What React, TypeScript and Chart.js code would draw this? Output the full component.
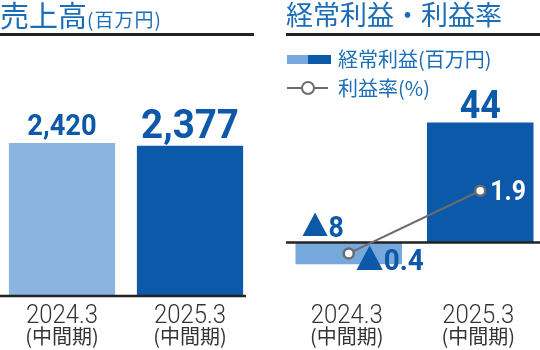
import React, { useEffect, useRef } from "react";
import { Chart, registerables } from "chart.js";

Chart.register(...registerables);

// Periods shown on both panels
const periods = ["2024.3", "2025.3"];
const periodNote = "(中間期)";

// 売上高 (百万円)
const sales = [2420, 2377];

// 経常利益 (百万円) and 利益率 (%)
const ordinaryProfit = [-8, 44];
const profitMargin = [-0.4, 1.9];

const TITLE_BLUE = "#1b6db7";
const VALUE_BLUE = "#0d58a8";
const DARK_BAR = "#0c58a9";
const LIGHT_BAR_SALES = "#8bb5e1";
const LIGHT_BAR_PROFIT = "#77a8dc";
const LINE_GRAY = "#6b6b6b";
const AXIS_DARK = "#222222";
const NUM_FONT = "Roboto, 'Noto Sans CJK JP', sans-serif";
const JP_FONT = "'Noto Sans CJK JP', sans-serif";

// label sizes for the sales values (the latest period is emphasised)
const salesLabelSizes = [29, 41];

// Japanese accounting style: negative values are written with ▲
const fmtSigned = (v: number) => (v < 0 ? "▲" + Math.abs(v) : String(v));

// numbers are set in a narrow, DIN-like cut: squeeze the glyphs horizontally
function narrowText(ctx: CanvasRenderingContext2D, text: string, x: number, y: number, sx: number) {
  ctx.save();
  ctx.translate(x, y);
  ctx.scale(sx, 1);
  ctx.fillText(text, 0, 0);
  ctx.restore();
}

const periodLabels = (shift: number, gap: number) => ({
  id: "periodLabels",
  afterDraw(chart: any) {
    const { ctx, chartArea } = chart;
    const xs = chart.scales.x;
    ctx.save();
    ctx.textAlign = "center";
    ctx.textBaseline = "alphabetic";
    ctx.fillStyle = "#333333";
    periods.forEach((p, i) => {
      const cx = xs.getPixelForValue(i) + shift;
      ctx.font = `300 26px ${NUM_FONT}`;
      narrowText(ctx, p, cx, chartArea.bottom + gap, 0.92);
      ctx.font = `20px ${JP_FONT}`;
      ctx.fillText(periodNote, cx, chartArea.bottom + gap + 21);
    });
    ctx.restore();
  },
});

const baseline = (insetL: number, insetR: number) => ({
  id: "baseline",
  afterDatasetDraw(chart: any, args: any) {
    if (args.meta.type !== "bar") return;
    const { ctx, chartArea } = chart;
    const y = chart.scales.y.getPixelForValue(0);
    ctx.save();
    ctx.strokeStyle = AXIS_DARK;
    ctx.lineWidth = 2.5;
    ctx.beginPath();
    ctx.moveTo(chartArea.left + insetL, y);
    ctx.lineTo(chartArea.right - insetR, y);
    ctx.stroke();
    ctx.restore();
  },
});

const salesValueLabels = {
  id: "salesValueLabels",
  afterDatasetsDraw(chart: any) {
    const { ctx } = chart;
    const meta = chart.getDatasetMeta(0);
    ctx.save();
    ctx.fillStyle = VALUE_BLUE;
    ctx.textAlign = "center";
    ctx.textBaseline = "alphabetic";
    meta.data.forEach((bar: any, i: number) => {
      ctx.font = `bold ${salesLabelSizes[i]}px ${NUM_FONT}`;
      narrowText(ctx, sales[i].toLocaleString("en-US"), bar.x, bar.y - 8, 0.94);
    });
    ctx.restore();
  },
};

const profitValueLabels = {
  id: "profitValueLabels",
  afterDatasetsDraw(chart: any) {
    const { ctx } = chart;
    const zero = chart.scales.y.getPixelForValue(0);
    const bars = chart.getDatasetMeta(0).data;
    const points = chart.getDatasetMeta(1).data;
    ctx.save();
    ctx.textBaseline = "alphabetic";
    bars.forEach((bar: any, i: number) => {
      const v = ordinaryProfit[i];
      ctx.fillStyle = VALUE_BLUE;
      if (v < 0) {
        ctx.font = `bold 29px ${NUM_FONT}`;
        ctx.textAlign = "left";
        narrowText(ctx, fmtSigned(v), bar.x - 47, zero - 6, 0.92);
      } else {
        ctx.font = `bold 39px ${NUM_FONT}`;
        ctx.textAlign = "center";
        narrowText(ctx, fmtSigned(v), bar.x, bar.y - 5, 0.92);
      }
    });
    points.forEach((pt: any, i: number) => {
      const v = profitMargin[i];
      ctx.textAlign = "left";
      if (v < 0) {
        ctx.fillStyle = VALUE_BLUE;
        ctx.font = `bold 30px ${NUM_FONT}`;
        narrowText(ctx, fmtSigned(v), pt.x + 7, pt.y + 17, 0.93);
      } else {
        ctx.fillStyle = "#ffffff";
        ctx.font = `bold 27px ${NUM_FONT}`;
        narrowText(ctx, fmtSigned(v), pt.x + 10, pt.y + 9, 0.92);
      }
    });
    ctx.restore();
  },
};

export default function App() {
  const leftRef = useRef<HTMLCanvasElement>(null);
  const rightRef = useRef<HTMLCanvasElement>(null);

  useEffect(() => {
    const left = new Chart(leftRef.current!, {
      type: "bar",
      data: {
        labels: periods,
        datasets: [
          {
            data: sales,
            backgroundColor: [LIGHT_BAR_SALES, DARK_BAR],
            borderWidth: 0,
            categoryPercentage: 1,
            barPercentage: 0.83,
          },
        ],
      },
      options: {
        responsive: false,
        animation: false,
        events: [],
        layout: { autoPadding: false, padding: { top: 62, bottom: 54, left: 0, right: 0 } },
        plugins: { legend: { display: false }, tooltip: { enabled: false } },
        scales: {
          x: { display: false, offset: true },
          y: { display: false, min: 0, max: 3700 },
        },
      },
      plugins: [baseline(2, 8), salesValueLabels, periodLabels(0, 27)],
    } as any);

    const right = new Chart(rightRef.current!, {
      type: "bar",
      data: {
        labels: periods,
        datasets: [
          {
            type: "bar",
            data: ordinaryProfit,
            backgroundColor: [LIGHT_BAR_PROFIT, DARK_BAR],
            borderWidth: 0,
            categoryPercentage: 1,
            barPercentage: 0.81,
            yAxisID: "y",
            order: 1,
          },
          {
            type: "line",
            data: profitMargin,
            borderColor: LINE_GRAY,
            borderWidth: 2,
            pointRadius: 5,
            pointBackgroundColor: "#ffffff",
            pointBorderColor: LINE_GRAY,
            pointBorderWidth: 2.5,
            yAxisID: "y2",
            order: 0,
          },
        ],
      },
      options: {
        responsive: false,
        animation: false,
        events: [],
        layout: { autoPadding: false, padding: { top: 79, bottom: 53, left: 0, right: 0 } },
        plugins: { legend: { display: false }, tooltip: { enabled: false } },
        scales: {
          x: { display: false, offset: true },
          y: { display: false, min: -20, max: 60 },
          y2: { display: false, min: -2, max: 6 },
        },
      },
      plugins: [baseline(3, 6), profitValueLabels, periodLabels(-2, 26)],
    } as any);

    return () => {
      left.destroy();
      right.destroy();
    };
  }, []);

  const titleStyle: React.CSSProperties = {
    position: "absolute",
    top: 0,
    fontFamily: JP_FONT,
    fontWeight: 400,
    color: TITLE_BLUE,
    lineHeight: 1,
    whiteSpace: "nowrap",
  };
  const ruleStyle: React.CSSProperties = {
    position: "absolute",
    top: 33,
    height: 3,
    background: AXIS_DARK,
  };
  const legendText: React.CSSProperties = {
    position: "absolute",
    left: 338,
    fontFamily: JP_FONT,
    fontSize: 20,
    lineHeight: 1,
    color: TITLE_BLUE,
    whiteSpace: "nowrap",
  };

  return (
    <div
      style={{
        position: "absolute",
        left: 0,
        top: 0,
        width: 540,
        height: 350,
        overflow: "hidden",
        background: "#ffffff",
      }}
    >
      <canvas ref={leftRef} width={256} height={350} style={{ position: "absolute", left: -2, top: 0 }} />
      <canvas ref={rightRef} width={263} height={350} style={{ position: "absolute", left: 283, top: 0 }} />

      <div style={{ ...titleStyle, left: 0, fontSize: 29 }}>
        売上高<span style={{ fontSize: 19, letterSpacing: 1 }}>(百万円)</span>
      </div>
      <div style={{ ...ruleStyle, left: 0, width: 254 }} />

      <div style={{ ...titleStyle, left: 286, fontSize: 27 }}>経常利益・利益率</div>
      <div style={{ ...ruleStyle, left: 286, width: 254 }} />

      <div
        style={{
          position: "absolute",
          left: 287,
          top: 55,
          width: 44,
          height: 9,
          background: `linear-gradient(to right, ${LIGHT_BAR_PROFIT} 0 48%, ${DARK_BAR} 48% 100%)`,
        }}
      />
      <div style={{ ...legendText, top: 49 }}>経常利益(百万円)</div>

      <div style={{ position: "absolute", left: 287, top: 87, width: 41, height: 2, background: LINE_GRAY }} />
      <div
        style={{
          position: "absolute",
          left: 301,
          top: 81,
          width: 14,
          height: 14,
          boxSizing: "border-box",
          borderRadius: "50%",
          border: `2px solid ${LINE_GRAY}`,
          background: "#ffffff",
        }}
      />
      <div style={{ ...legendText, top: 78 }}>利益率(%)</div>
    </div>
  );
}
